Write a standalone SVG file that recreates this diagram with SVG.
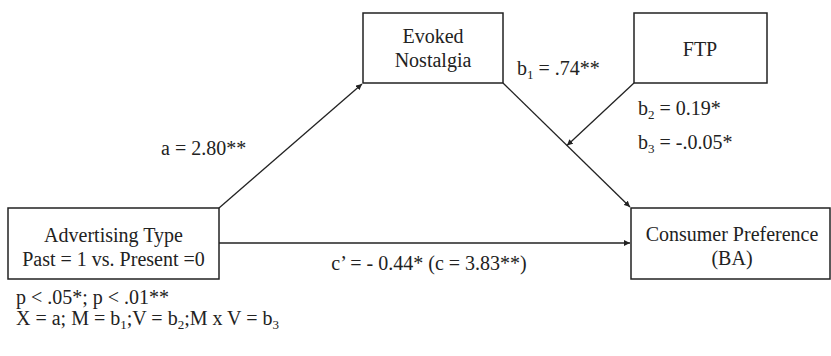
<svg xmlns="http://www.w3.org/2000/svg" width="831" height="356" viewBox="0 0 831 356" font-family="'Liberation Serif', 'Times New Roman', serif">
<style>
text{font-family:'Liberation Serif','Times New Roman',serif;font-size:20px;fill:#222}
.box{fill:#fff;stroke:#222;stroke-width:1.5}
.c{text-anchor:middle}
.ln{stroke:#222;stroke-width:1.3;fill:none}
</style>
<defs>
<marker id="ah" viewBox="0 0 10 10" refX="10" refY="5" markerWidth="6" markerHeight="6" markerUnits="userSpaceOnUse" orient="auto">
<path d="M0,0 L10,5 L0,10 z" fill="#222"/>
</marker>
</defs>
<rect width="831" height="356" fill="#fff"/>
<g id="connectors">
<line class="ln" x1="219" y1="208" x2="362" y2="84" marker-end="url(#ah)"/>
<line class="ln" x1="219" y1="243" x2="630" y2="243" marker-end="url(#ah)"/>
<line class="ln" x1="503" y1="83" x2="630" y2="207" marker-end="url(#ah)"/>
<line class="ln" x1="634" y1="83" x2="567" y2="145.5" marker-end="url(#ah)"/>
</g>
<g id="evoked">
<rect class="box" x="363" y="13" width="140" height="70"/>
<text class="c" x="433" y="43">Evoked</text>
<text class="c" x="433" y="67">Nostalgia</text>
</g>
<g id="ftp">
<rect class="box" x="634" y="13" width="133" height="70"/>
<text class="c" x="700" y="56">FTP</text>
</g>
<g id="advertising">
<rect class="box" x="8" y="208" width="211" height="71"/>
<text class="c" x="113.5" y="242">Advertising Type</text>
<text class="c" x="113.5" y="266">Past = 1 vs. Present =0</text>
</g>
<g id="consumer">
<rect class="box" x="631" y="208" width="199" height="71"/>
<text class="c" x="732" y="241">Consumer Preference</text>
<text class="c" x="732" y="265">(BA)</text>
</g>
<g id="labels">
<text x="161" y="155">a = 2.80**</text>
<text x="517" y="75">b<tspan font-size="13" dy="4">1</tspan><tspan dy="-4"> = .74**</tspan></text>
<text x="638" y="115">b<tspan font-size="13" dy="4">2</tspan><tspan dy="-4"> = 0.19*</tspan></text>
<text x="638" y="149">b<tspan font-size="13" dy="4">3</tspan><tspan dy="-4"> = -.0.05*</tspan></text>
<text class="c" x="429" y="270">c’ = - 0.44* (c = 3.83**)</text>
<text x="16" y="304">p &lt; .05*; p &lt; .01**</text>
<text x="16" y="325">X = a; M = b<tspan font-size="13" dy="4">1</tspan><tspan dy="-4">;V = b</tspan><tspan font-size="13" dy="4">2</tspan><tspan dy="-4">;M x V = b</tspan><tspan font-size="13" dy="4">3</tspan></text>
</g>
</svg>
